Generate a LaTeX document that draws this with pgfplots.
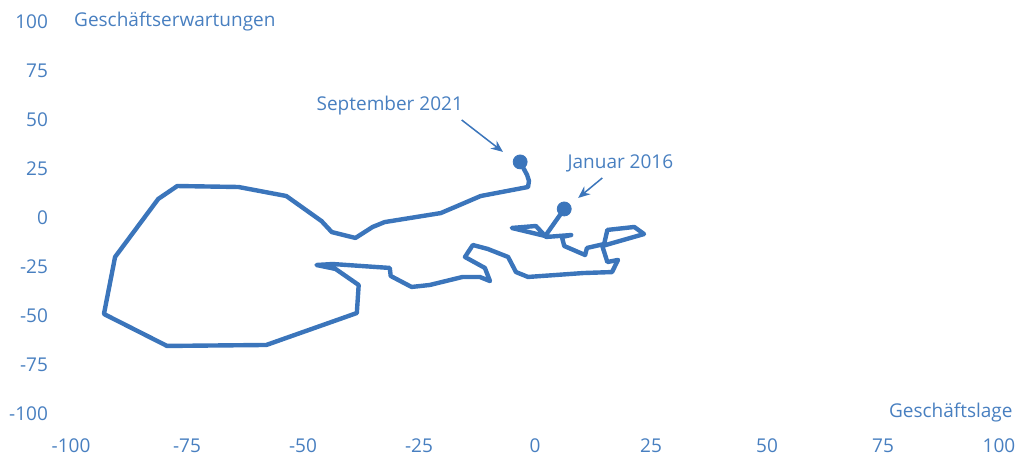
\documentclass[border=0pt]{standalone}
\usepackage{fontspec}
\setmainfont{Open Sans}
\usepackage{pgfplots}
\pgfplotsset{compat=1.18}
\usetikzlibrary{arrows.meta}
\definecolor{ifoblue}{RGB}{59,117,187}
\definecolor{txtblue}{RGB}{72,127,192}
\begin{document}
\begin{tikzpicture}
\useasboundingbox (0,0) rectangle (509pt,228.5pt);
\begin{axis}[
  at={(35.5pt,22.5pt)}, anchor=south west,
  scale only axis, width=464pt, height=196pt,
  xmin=-100, xmax=100, ymin=-100, ymax=100,
  axis line style={draw=none}, tick style={draw=none},
  xtick={-100,-75,-50,-25,0,25,50,75,100},
  xticklabels={-100,-75,-50,-25,0,25,50,75,100},
  ytick={-100,-75,-50,-25,0,25,50,75,100},
  yticklabels={-100,-75,-50,-25,0,25,50,75,100},
  ticklabel style={font=\fontsize{9.5}{11}\selectfont, text=txtblue},
  xticklabel style={yshift=-10pt},
  yticklabel style={xshift=-8pt, yshift=-1pt},
  clip=false,
]
\addplot[ifoblue, line width=2.2pt, line join=round] coordinates {
(6.3,3.6) (2.2,-10.2) (-5.0,-6.1) (0.2,-5.1) (2.4,-10.7) (7.8,-9.7) (5.8,-10.7)
(6.3,-15.3) (10.8,-19.9) (11.2,-16.3) (14.9,-14.3) (15.6,-7.1) (21.4,-5.6)
(23.5,-9.2) (14.5,-15.3) (15.6,-23.5) (17.9,-22.4) (16.6,-28.6) (10.4,-29.1)
(-1.5,-31.1) (-4.1,-28.6) (-5.8,-20.9) (-10.2,-16.8) (-13.4,-14.8) (-15.1,-20.9)
(-10.8,-26.5) (-9.7,-33.2) (-11.9,-31.1) (-15.6,-31.1) (-22.7,-35.2) (-26.6,-36.2)
(-31.1,-30.6) (-31.3,-26.5) (-43.6,-24.5) (-47.1,-25.0) (-43.0,-27.0) (-38.0,-35.2)
(-38.4,-49.5) (-57.9,-65.8) (-79.3,-66.3) (-92.9,-50.0) (-90.5,-20.9) (-81.2,8.7)
(-77.1,15.3) (-63.9,14.8) (-53.6,10.2) (-46.0,-2.6) (-43.8,-8.2) (-38.7,-11.2)
(-35.0,-5.6) (-32.4,-3.1) (-20.3,1.5) (-11.7,10.2) (-1.5,14.8) (-1.3,17.9)
(-1.7,20.9) (-3.2,27.6)
};
\addplot[only marks, mark=*, mark size=3.5pt, ifoblue, mark options={draw=ifoblue, fill=ifoblue}] coordinates {(6.3,3.6) (-3.2,27.6)};
\draw[ifoblue, line width=0.75pt, -{Stealth[length=6pt,width=5pt]}] (axis cs:-15.8,49.0) -- (axis cs:-6.9,32.7);
\draw[ifoblue, line width=0.75pt, -{Stealth[length=6pt,width=5pt]}] (axis cs:14.5,19.4) -- (axis cs:9.3,9.2);
\node[text=txtblue, font=\fontsize{9.5}{11}\selectfont] at (axis cs:-31.3,56.3) {September 2021};
\node[text=txtblue, font=\fontsize{9.5}{11}\selectfont] at (axis cs:18.4,26.8) {Januar 2016};
\node[text=txtblue, font=\fontsize{9.5}{11}\selectfont, anchor=west, inner sep=0pt] at (axis cs:-99.4,99.3) {Geschäftserwartungen};
\node[text=txtblue, font=\fontsize{9.5}{11}\selectfont, anchor=east, inner sep=0pt] at (axis cs:103,-100.5) {Geschäftslage};
\end{axis}
\end{tikzpicture}
\end{document}
